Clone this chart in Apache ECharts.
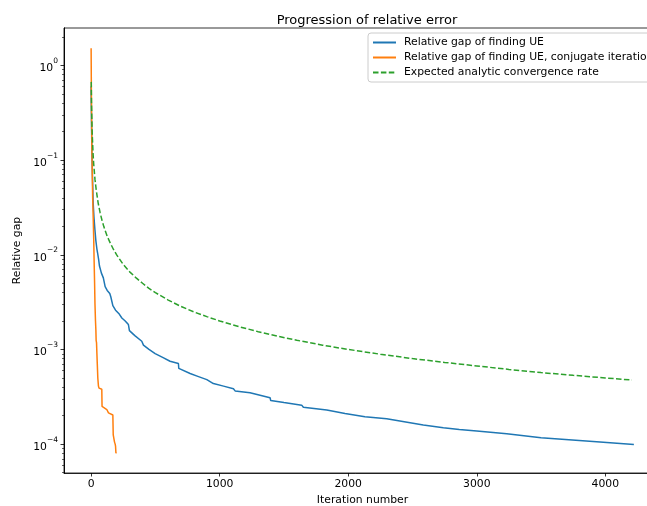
<!DOCTYPE html>
<html>
<head>
<meta charset="utf-8">
<script src="https://cdn.jsdelivr.net/npm/echarts@6/dist/echarts.min.js"></script>
<style>
html,body{margin:0;padding:0;background:#fff;}
#chart{width:647px;height:506px;}
</style>
</head>
<body>
<div id="chart"></div>
<script>
// ---- data ----
const seriesNames = [
  "Relative gap of finding UE",
  "Relative gap of finding UE, conjugate iteration",
  "Expected analytic convergence rate"
];
// blue: iteration, relative gap
const blueIter = [0,3,6,10,13,16,22,30,37,45,50,58,65,80,95,109,125,145,153,169,190,215,239,265,290,298,340,394,407,450,498,560,614,679,682,770,830,900,951,1030,1107,1120,1236,1392,1397,1500,1638,1651,1833,1975,2130,2299,2310,2584,2740,2864,3000,3233,3237,3500,3932,3945,4222];
const blueGap  = [0.6,0.25,0.12,0.07,0.05,0.035,0.025,0.018,0.014,0.0115,0.0105,0.009,0.0076,0.0064,0.0057,0.0046,0.0042,0.0039,0.0036,0.0029,0.0026,0.0024,0.00215,0.002,0.00183,0.00158,0.0014,0.00122,0.00111,0.001,0.000905,0.00082,0.00075,0.00071,0.00063,0.000557,0.00052,0.00048,0.000436,0.00041,0.000384,0.000365,0.000348,0.000309,0.000289,0.000275,0.000258,0.000245,0.000229,0.000211,0.000195,0.000185,0.000178,0.000159,0.000149,0.000143,0.000138,0.000129,0.000123,0.000117,0.000106,0.000104,0.0000993];
// orange: conjugate iteration
const orangeIter = [0,1,2,4,6,9,12,16,20,23,27,30,34,37,39,42,45,48,52,57,62,83,85,91,100,122,135,148,169,172,178,182,187,190,193,195];
const orangeGap  = [1.52,0.9,0.5,0.25,0.13,0.07,0.04,0.025,0.015,0.009,0.005,0.003,0.002,0.0016,0.00125,0.00118,0.0009,0.0007,0.0005,0.00041,0.00039,0.00038,0.00025,0.000242,0.00024,0.000232,0.000214,0.000206,0.000203,0.000125,0.00012,0.000105,0.0001,0.000095,0.00008,0.000082];
// green: expected analytic rate (sampled from the dashed curve)
const greenIter = [1,3,5,8,10,15,20,30,40,55,70,85,100,125,150,175,200,250,300,350,400,450,500,600,700,800,900,1000,1150,1300,1450,1600,1800,2000,2250,2500,2750,3000,3250,3500,3750,4000,4207];
const greenGap  = [0.67,0.4,0.29,0.2,0.17,0.118,0.091,0.0625,0.048,0.035,0.0278,0.0230,0.0196,0.0157,0.0132,0.0113,0.0099,0.0079,0.0066,0.0057,0.0050,0.00442,0.00398,0.00332,0.00284,0.00249,0.00222,0.0020,0.00174,0.00154,0.00138,0.00125,0.00111,0.0010,0.00089,0.0008,0.00073,0.00067,0.000615,0.00057,0.000533,0.0005,0.000475];
// tick labels
const xTicks = [0,1000,2000,3000,4000];
const yDecades = [-4,-3,-2,-1,0];

const colors = ["#1f77b4","#ff7f0e","#2ca02c"];
const FONT = "DejaVu Sans";
const FS = 10.8;

function toPairs(xs, ys){ return xs.map((x,i)=>[x, Math.log10(ys[i])]); }

const yMin = -4.305, yMax = 0.395;
const minorTicks = [];
for (let n = -5; n <= 0; n++) {
  for (let k = 2; k <= 9; k++) {
    const v = n + Math.log10(k);
    if (v > yMin && v < yMax) minorTicks.push(v);
  }
}
function sup(n){ return n < 0 ? "\u2212" + (-n) : "" + n; }

const chart = echarts.init(document.getElementById('chart'), null, {renderer:'canvas'});
const tickLine = {color:'#000', width:0.8};
chart.setOption({
  animation:false,
  backgroundColor:'#fff',
  textStyle:{fontFamily:FONT},
  title:{
    text:"Progression of relative error",
    left:362, top:9, textAlign:'center',
    textStyle:{fontFamily:FONT, fontSize:13, fontWeight:'normal', color:'#000'}
  },
  legend:{
    orient:'vertical', left:368, top:33,
    backgroundColor:'rgba(255,255,255,0.8)', borderColor:'#cccccc', borderWidth:1, borderRadius:3,
    padding:[4,6,4,4], itemGap:4, itemWidth:23, itemHeight:12,
    itemStyle:{opacity:0},
    textStyle:{fontFamily:FONT, fontSize:FS, color:'#000', padding:[0,0,0,3]},
    data:seriesNames
  },
  grid:{left:64, top:28, width:597, height:445, show:true, borderColor:'#000', borderWidth:0.8,
        containLabel:false, outerBoundsMode:'none'},
  xAxis:{
    type:'value', min:-211, max:4433,
    name:"Iteration number", nameLocation:'middle', nameGap:20,
    nameTextStyle:{fontFamily:FONT, fontSize:FS, color:'#000'},
    axisLine:{show:true, onZero:false, lineStyle:tickLine},
    axisTick:{show:true, length:3.5, lineStyle:tickLine, customValues:xTicks},
    axisLabel:{fontFamily:FONT, fontSize:FS, color:'#000', margin:6, customValues:xTicks,
      formatter:function(v){ return String(Math.round(v)); }},
    splitLine:{show:false}
  },
  yAxis:[{
    type:'value', min:yMin, max:yMax,
    name:"Relative gap", nameLocation:'middle', nameGap:36,
    nameTextStyle:{fontFamily:FONT, fontSize:FS, color:'#000'},
    axisLine:{show:true, onZero:false, lineStyle:tickLine},
    axisTick:{show:true, length:3.5, lineStyle:tickLine, customValues:yDecades},
    axisLabel:{
      customValues:yDecades, margin:6,
      formatter:function(v){ return '{b|10}{s|' + sup(Math.round(v)) + '}'; },
      rich:{
        b:{fontFamily:FONT, fontSize:FS, color:'#000', lineHeight:17, verticalAlign:'bottom'},
        s:{fontFamily:FONT, fontSize:7.5, color:'#000', lineHeight:17, verticalAlign:'top'}
      }
    },
    splitLine:{show:false}
  },{
    type:'value', min:yMin, max:yMax, position:'left', offset:0,
    axisLine:{show:true, onZero:false, lineStyle:tickLine},
    axisTick:{show:true, length:2, lineStyle:{color:'#000', width:0.6}, customValues:minorTicks},
    axisLabel:{show:false},
    splitLine:{show:false}
  }],
  series:[
    {name:seriesNames[0], type:'line', data:toPairs(blueIter, blueGap), symbol:'none', showSymbol:false,
     lineStyle:{color:colors[0], width:1.5}, itemStyle:{color:colors[0]}},
    {name:seriesNames[1], type:'line', data:toPairs(orangeIter, orangeGap), symbol:'none', showSymbol:false,
     lineStyle:{color:colors[1], width:1.5}, itemStyle:{color:colors[1]}},
    {name:seriesNames[2], type:'line', data:toPairs(greenIter, greenGap), symbol:'none', showSymbol:false,
     lineStyle:{color:colors[2], width:1.5, type:[5.5,2.4]}, itemStyle:{color:colors[2]}}
  ]
});
</script>
</body>
</html>
